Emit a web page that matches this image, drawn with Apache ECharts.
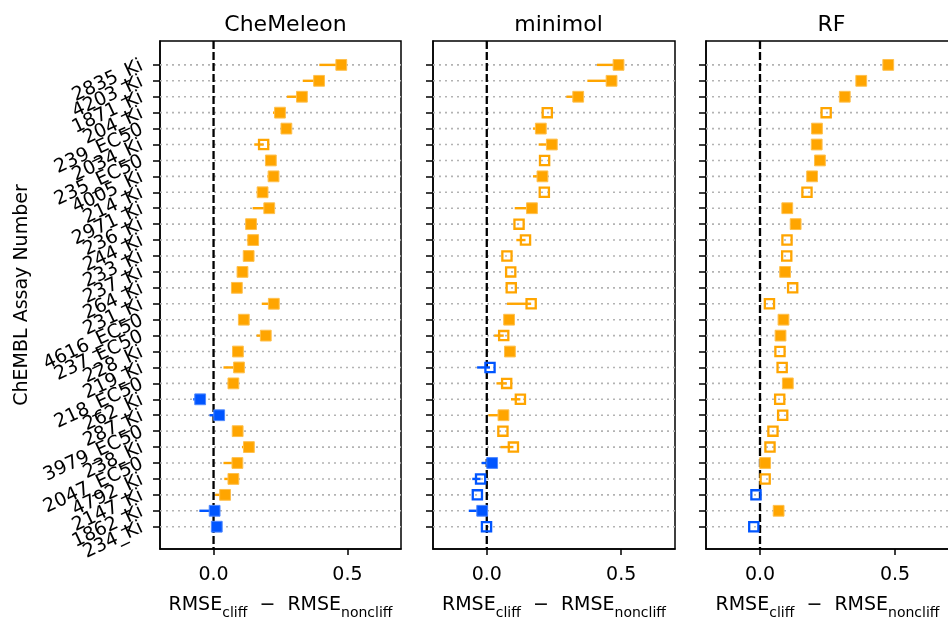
<!DOCTYPE html>
<html>
<head>
<meta charset="utf-8">
<script src="https://cdn.jsdelivr.net/npm/echarts@6/dist/echarts.min.js"></script>
<style>html,body{margin:0;padding:0;background:#fff}#chart{width:948px;height:619px}</style>
</head>
<body>
<div id="chart"></div>
<script>
// ---------------- data ----------------
const assays = ['2835_Ki','4203_Ki','1871_Ki','204_Ki','239_EC50','2034_Ki','235_EC50','4005_Ki','214_Ki','2971_Ki',
  '236_Ki','244_Ki','233_Ki','237_Ki','264_Ki','231_Ki','4616_EC50','237_EC50','228_Ki','219_Ki',
  '218_EC50','262_Ki','287_Ki','3979_EC50','238_Ki','2047_EC50','4792_Ki','2147_Ki','1862_Ki','234_Ki'];
const panelTitles = ['CheMeleon', 'minimol', 'RF'];
const xTickValues = [0, 0.5];

// CheMeleon
const cheValue = [0.477,0.394,0.330,0.248,0.272,0.187,0.214,0.224,0.183,0.208,
  0.140,0.148,0.131,0.108,0.087,0.225,0.113,0.195,0.091,0.095,
  0.074,-0.050,0.021,0.090,0.132,0.089,0.074,0.043,0.004,0.012];
const cheStart = [0.395,0.333,0.274,0.222,null,0.152,0.194,0.201,0.161,0.146,
  null,0.124,null,null,null,0.180,null,0.161,null,0.037,
  0.052,-0.076,-0.015,null,0.106,0.037,0.040,0.006,-0.053,null];
const cheFilled = [1,1,1,1,1,0,1,1,1,1, 1,1,1,1,1,1,1,1,1,1, 1,1,1,1,1,1,1,1,1,1];
const cheBlue   = [0,0,0,0,0,0,0,0,0,0, 0,0,0,0,0,0,0,0,0,0, 0,1,1,0,0,0,0,0,1,1];

// minimol
const minValue = [0.490,0.464,0.340,0.225,0.201,0.242,0.215,0.207,0.214,0.168,
  0.120,0.144,0.075,0.089,0.091,0.165,0.083,0.063,0.086,0.012,
  0.074,0.125,0.062,0.060,0.099,0.020,-0.023,-0.035,-0.017,-0.001];
const minStart = [0.410,0.374,0.296,null,0.172,0.193,null,0.172,null,0.104,
  null,0.110,null,null,null,0.075,null,0.028,null,-0.036,
  0.036,0.090,0.006,null,0.051,-0.019,-0.054,null,-0.067,null];
const minFilled = [1,1,1,0,1,1,0,1,0,1, 0,0,0,0,0,0,1,0,1,0, 0,0,1,0,0,1,0,0,1,0];
const minBlue   = [0,0,0,0,0,0,0,0,0,0, 0,0,0,0,0,0,0,0,0,1, 0,0,0,0,0,1,1,1,1,1];

// RF
const rfValue = [0.475,0.375,0.314,0.245,0.211,0.210,0.222,0.193,0.174,0.101,
  0.132,0.100,0.099,0.093,0.121,0.035,0.087,0.076,0.074,0.082,
  0.103,0.073,0.084,0.048,0.037,0.019,0.019,-0.015,0.069,-0.023];
const rfStart = [null,null,null,null,null,null,null,null,null,null,
  null,null,null,null,null,null,null,null,null,null,
  null,null,null,null,null,null,null,null,null,null];
const rfFilled = [1,1,1,0,1,1,1,1,0,1, 1,0,0,1,0,0,1,1,0,0, 1,0,0,0,0,1,0,0,1,0];
const rfBlue   = [0,0,0,0,0,0,0,0,0,0, 0,0,0,0,0,0,0,0,0,0, 0,0,0,0,0,0,0,1,0,1];

// ---------------- chart ----------------
const ORANGE = '#FFA500', ORANGE_EDGE = '#FFC04D';
const BLUE = '#0055FF', BLUE_EDGE = '#4D88FF';
const FONT = 'DejaVu Sans';
const X_MIN = -0.2, X_MAX = 0.7, Y_MIN = -1.5, Y_MAX = 30.4;

const panels = [
  {value: cheValue, start: cheStart, filled: cheFilled, blue: cheBlue},
  {value: minValue, start: minStart, filled: minFilled, blue: minBlue},
  {value: rfValue,  start: rfStart,  filled: rfFilled,  blue: rfBlue}
];
const gridLeft = [160, 433, 706];
const gridWidth = [241, 242, 243];
const rows = assays.map((_, i) => i);
// label positions padded with one empty slot at each end so every real label is kept
const labelSlots = [-1].concat(rows, [assays.length]);

const grids = [], xAxes = [], yAxes = [], series = [], titles = [];
panels.forEach((p, k) => {
  grids.push({left: gridLeft[k], width: gridWidth[k], top: 41, bottom: 70, show: true,
    outerBoundsMode: 'none', containLabel: false,
    borderColor: '#000', borderWidth: 1.5, backgroundColor: 'transparent'});
  titles.push({text: panelTitles[k], left: gridLeft[k] + 241 / 2, top: 9, textAlign: 'center',
    textStyle: {fontFamily: FONT, fontSize: 22, fontWeight: 'normal', color: '#000'}});
  xAxes.push({
    gridIndex: k, type: 'value', min: X_MIN, max: X_MAX, position: 'bottom',
    axisLine: {show: true, onZero: false, lineStyle: {color: '#000', width: 1.5}},
    axisTick: {show: true, length: 6, lineStyle: {color: '#000', width: 1.5}, customValues: xTickValues},
    axisLabel: {show: true, customValues: xTickValues, formatter: v => Number(v).toFixed(1),
      fontFamily: FONT, fontSize: 19, color: '#000', margin: 17},
    splitLine: {show: false},
    name: '{m|RMSE}{s|cliff}{m|  \u2212  RMSE}{s|noncliff}',
    nameLocation: 'middle', nameGap: 47,
    nameTextStyle: {fontFamily: FONT, color: '#000', rich: {
      m: {fontFamily: FONT, fontSize: 19, lineHeight: 24, verticalAlign: 'top', color: '#000'},
      s: {fontFamily: FONT, fontSize: 14, lineHeight: 14, verticalAlign: 'bottom', color: '#000'}
    }}
  });
  yAxes.push({
    gridIndex: k, type: 'value', min: Y_MIN, max: Y_MAX, inverse: true, position: 'left',
    axisLine: {show: true, onZero: false, lineStyle: {color: '#000', width: 1.5}},
    axisTick: {show: true, length: 7, lineStyle: {color: '#000', width: 1.5}, customValues: rows},
    axisLabel: {show: k === 0, customValues: labelSlots, formatter: v => assays[Math.round(v)] || '',
      showMinLabel: false, showMaxLabel: false, hideOverlap: false,
      rotate: 25, fontFamily: FONT, fontSize: 19, color: '#000', margin: 18},
    splitLine: {show: false},
    name: k === 0 ? 'ChEMBL Assay Number' : '',
    nameLocation: 'middle', nameGap: 128, nameRotate: 90,
    nameTextStyle: {fontFamily: FONT, fontSize: 19, color: '#000'}
  });
  // dotted row grid lines
  series.push({
    type: 'custom', xAxisIndex: k, yAxisIndex: k, z: 1, silent: true,
    data: rows.map(i => [0, i]),
    encode: {x: 0, y: 1},
    renderItem: (params, api) => {
      const row = api.value(1);
      const a = api.coord([X_MIN, row]), b = api.coord([X_MAX, row]);
      return {type: 'line', shape: {x1: a[0], y1: a[1], x2: b[0], y2: b[1]},
        style: {stroke: '#b3b3b3', lineWidth: 1.6, lineDash: [2, 4]}};
    }
  });
  // dashed zero reference line
  series.push({
    type: 'custom', xAxisIndex: k, yAxisIndex: k, z: 2, silent: true,
    data: [[0, Y_MIN]],
    encode: {x: 0, y: 1},
    renderItem: (params, api) => {
      const x0 = api.value(0);
      const a = api.coord([x0, Y_MIN]), b = api.coord([x0, Y_MAX]);
      return {type: 'line', shape: {x1: a[0], y1: a[1], x2: b[0], y2: b[1]},
        style: {stroke: '#000', lineWidth: 2.3, lineDash: [8, 3]}};
    }
  });
  // markers with their line segments
  series.push({
    type: 'custom', xAxisIndex: k, yAxisIndex: k, z: 3, silent: true,
    data: p.value.map((v, i) => [v, i]),
    encode: {x: 0, y: 1},
    renderItem: (params, api) => {
      const i = params.dataIndex;
      const v = api.value(0), row = api.value(1);
      const isBlue = p.blue[i] === 1;
      const c = isBlue ? BLUE : ORANGE;
      const edge = isBlue ? BLUE_EDGE : ORANGE_EDGE;
      const pt = api.coord([v, row]);
      const children = [];
      if (p.start[i] !== null) {
        const q = api.coord([p.start[i], row]);
        children.push({type: 'line', shape: {x1: q[0], y1: q[1], x2: pt[0], y2: pt[1]},
          style: {stroke: c, lineWidth: 2.4}});
      }
      if (p.filled[i] === 1) {
        const h = 5.4;
        children.push({type: 'rect', shape: {x: pt[0] - h, y: pt[1] - h, width: 2 * h, height: 2 * h},
          style: {fill: c, stroke: edge, lineWidth: 1}});
      } else {
        const h = 4.6;
        children.push({type: 'rect', shape: {x: pt[0] - h, y: pt[1] - h, width: 2 * h, height: 2 * h},
          style: {fill: 'none', stroke: c, lineWidth: 2.3}});
      }
      return {type: 'group', children: children};
    }
  });
});

const chart = echarts.init(document.getElementById('chart'), null, {renderer: 'canvas'});
chart.setOption({
  animation: false,
  backgroundColor: '#fff',
  title: titles,
  grid: grids,
  xAxis: xAxes,
  yAxis: yAxes,
  series: series
});
</script>
</body>
</html>
